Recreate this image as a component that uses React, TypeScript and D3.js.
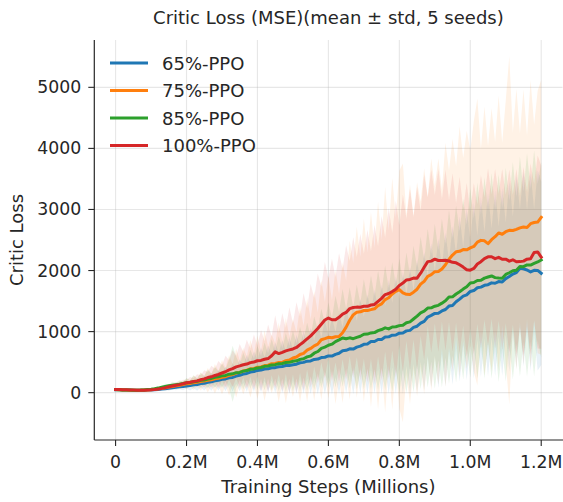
import React from "react";
import * as d3 from "d3";

// x grid: training steps in millions, one sample every 0.01M
const STEP_M = 0.01;
const N_POINTS = 121;

const SERIES_NAMES = ["65%-PPO", "75%-PPO", "85%-PPO", "100%-PPO"];
const SERIES_COLORS = ["#1f77b4", "#ff7f0e", "#2ca02c", "#d62728"];

const MEAN_65 = [
  48, 46, 45, 44, 42, 41, 40, 40, 41, 42,
  45, 48, 53, 58, 64, 72, 80, 88, 95, 102,
  110, 116, 128, 133, 148, 155, 170, 178, 194, 202,
  218, 225, 243, 250, 272, 285, 305, 315, 338, 345,
  365, 370, 388, 390, 408, 410, 424, 428, 444, 446,
  458, 466, 490, 496, 516, 520, 545, 550, 575, 580,
  602, 600, 628, 645, 686, 694, 718, 714, 746, 762,
  792, 798, 838, 838, 870, 872, 912, 914, 942, 944,
  975, 978, 1012, 1020, 1068, 1088, 1138, 1168, 1238, 1265,
  1298, 1302, 1338, 1362, 1418, 1428, 1488, 1532, 1582, 1602,
  1658, 1672, 1718, 1728, 1758, 1768, 1798, 1792, 1820, 1812,
  1868, 1902, 1943, 1967, 2038, 2027, 2008, 1977, 2003, 2002,
  1955,
];
const MEAN_75 = [
  50, 47, 45, 43, 41, 40, 40, 40, 42, 45,
  48, 55, 62, 72, 82, 92, 102, 112, 122, 132,
  144, 150, 164, 170, 184, 190, 204, 212, 228, 236,
  253, 262, 285, 297, 321, 332, 355, 367, 391, 397,
  416, 421, 444, 451, 474, 478, 494, 498, 525, 535,
  568, 585, 626, 644, 696, 724, 766, 794, 866, 884,
  906, 899, 916, 919, 981, 1074, 1186, 1274, 1316, 1324,
  1346, 1344, 1360, 1374, 1426, 1454, 1524, 1554, 1616, 1659,
  1688, 1634, 1611, 1609, 1646, 1694, 1776, 1824, 1906, 1934,
  1981, 1984, 2026, 2094, 2186, 2254, 2306, 2314, 2343, 2339,
  2370, 2394, 2466, 2494, 2486, 2440, 2506, 2554, 2616, 2594,
  2636, 2658, 2656, 2674, 2698, 2714, 2706, 2767, 2786, 2794,
  2870,
];
const MEAN_85 = [
  50, 47, 45, 43, 42, 41, 41, 42, 45, 50,
  56, 64, 75, 88, 100, 112, 122, 132, 140, 150,
  162, 166, 180, 188, 202, 208, 224, 233, 252, 260,
  275, 282, 303, 309, 328, 332, 353, 362, 383, 389,
  405, 412, 431, 437, 455, 459, 473, 479, 493, 497,
  514, 521, 545, 555, 586, 600, 646, 674, 726, 746,
  776, 794, 836, 864, 896, 882, 898, 884, 906, 924,
  956, 959, 978, 984, 1016, 1034, 1061, 1044, 1076, 1079,
  1098, 1104, 1146, 1159, 1206, 1254, 1306, 1334, 1386, 1389,
  1416, 1430, 1466, 1504, 1566, 1569, 1616, 1654, 1696, 1734,
  1796, 1804, 1836, 1840, 1876, 1894, 1911, 1884, 1876, 1874,
  1936, 1964, 1996, 2004, 2066, 2064, 2091, 2089, 2116, 2140,
  2173,
];
const MEAN_100 = [
  52, 50, 48, 46, 44, 42, 41, 40, 41, 43,
  46, 52, 60, 70, 82, 96, 108, 120, 132, 146,
  162, 170, 184, 193, 212, 226, 247, 260, 282, 298,
  322, 343, 372, 393, 422, 438, 457, 468, 492, 503,
  522, 528, 547, 558, 604, 668, 640, 660, 684, 700,
  716, 740, 786, 830, 880, 930, 990, 1050, 1120, 1190,
  1222, 1194, 1196, 1234, 1286, 1314, 1376, 1394, 1401, 1399,
  1416, 1414, 1436, 1444, 1496, 1544, 1606, 1624, 1656, 1694,
  1756, 1794, 1846, 1854, 1876, 1874, 1956, 2054, 2146, 2154,
  2186, 2164, 2166, 2169, 2156, 2134, 2126, 2094, 2056, 2014,
  2006, 2034, 2106, 2144, 2196, 2224, 2226, 2194, 2216, 2184,
  2186, 2154, 2176, 2144, 2146, 2154, 2186, 2194, 2296, 2304,
  2220,
];

const STD_65 = [
  6, 9, 6, 11, 5, 9, 6, 10, 7, 10,
  10, 16, 16, 28, 20, 40, 28, 50, 34, 62,
  40, 80, 50, 100, 60, 120, 70, 145, 85, 165,
  95, 200, 110, 230, 125, 260, 140, 300, 160, 330,
  180, 360, 195, 380, 210, 410, 225, 430, 240, 460,
  255, 480, 270, 510, 290, 540, 310, 570, 330, 600,
  350, 630, 370, 660, 390, 700, 410, 740, 430, 770,
  450, 810, 470, 850, 490, 890, 510, 930, 530, 960,
  560, 1000, 580, 1040, 600, 1080, 630, 1130, 660, 1180,
  690, 1220, 710, 1260, 740, 1300, 770, 1350, 800, 1400,
  830, 1440, 850, 1470, 870, 1500, 890, 1520, 900, 1540,
  920, 1560, 940, 1580, 960, 1600, 980, 1620, 1000, 1640,
  1500,
];
const STD_75 = [
  12, 8, 14, 7, 10, 6, 12, 8, 11, 9,
  18, 12, 30, 22, 45, 25, 55, 35, 70, 40,
  90, 50, 120, 60, 150, 85, 200, 95, 240, 120,
  280, 140, 330, 170, 400, 200, 380, 230, 470, 250,
  520, 260, 580, 300, 480, 330, 650, 340, 700, 380,
  640, 400, 780, 450, 850, 480, 900, 520, 980, 600,
  1000, 620, 1100, 700, 1150, 760, 1300, 850, 1400, 900,
  1500, 950, 1600, 1000, 1700, 1050, 1850, 1100, 1900, 1200,
  1950, 2120, 1300, 1800, 1250, 1750, 1350, 1850, 1300, 1900,
  1400, 1850, 1300, 2000, 1450, 1900, 1400, 2050, 1500, 1950,
  1600, 2050, 2350, 1500, 2200, 1600, 2150, 1550, 2250, 1500,
  2150, 2850, 1600, 2300, 1550, 2250, 1500, 2350, 1600, 2150,
  2250,
];
const STD_85 = [
  10, 7, 12, 6, 9, 6, 10, 7, 12, 8,
  18, 12, 32, 20, 45, 25, 55, 32, 65, 36,
  80, 40, 100, 50, 120, 65, 150, 75, 170, 90,
  200, 100, 240, 460, 260, 130, 300, 150, 320, 170,
  360, 190, 390, 210, 420, 230, 450, 250, 480, 270,
  500, 290, 530, 310, 560, 330, 600, 360, 650, 400,
  700, 430, 750, 460, 800, 490, 830, 510, 860, 540,
  900, 570, 940, 600, 980, 630, 1020, 660, 1060, 690,
  1100, 720, 1150, 760, 1200, 800, 1250, 840, 1300, 880,
  1350, 900, 1380, 930, 1420, 960, 1450, 990, 1480, 1020,
  1550, 1050, 1600, 1080, 1650, 1100, 1680, 1120, 1700, 1150,
  1750, 1180, 1780, 1200, 1800, 1230, 1830, 1250, 1850, 1280,
  1600,
];
const STD_100 = [
  7, 10, 6, 12, 6, 9, 7, 10, 8, 11,
  10, 16, 18, 28, 22, 40, 30, 50, 38, 65,
  45, 85, 55, 110, 75, 140, 90, 180, 110, 220,
  130, 260, 160, 300, 180, 360, 210, 400, 230, 450,
  250, 500, 290, 560, 320, 600, 340, 640, 380, 700,
  420, 740, 460, 800, 500, 850, 560, 900, 620, 950,
  650, 1000, 700, 1050, 740, 1100, 780, 1150, 820, 1200,
  860, 1250, 880, 1300, 900, 1350, 930, 1400, 960, 1450,
  980, 1450, 1000, 1480, 1000, 1500, 1020, 1520, 1050, 1500,
  1050, 1500, 1000, 1480, 1000, 1460, 980, 1440, 960, 1420,
  960, 1400, 980, 1420, 1000, 1450, 1020, 1470, 1040, 1480,
  1050, 1500, 1060, 1520, 1080, 1540, 1100, 1560, 1120, 1580,
  1500,
];

const MEANS = [MEAN_65, MEAN_75, MEAN_85, MEAN_100];
const STDS = [STD_65, STD_75, STD_85, STD_100];

const X_TICKS = [0, 0.2, 0.4, 0.6, 0.8, 1.0, 1.2];
const X_TICK_LABELS = ["0", "0.2M", "0.4M", "0.6M", "0.8M", "1.0M", "1.2M"];
const Y_TICKS = [0, 1000, 2000, 3000, 4000, 5000];

const TITLE = "Critic Loss (MSE)(mean ± std, 5 seeds)";
const X_LABEL = "Training Steps (Millions)";
const Y_LABEL = "Critic Loss";

const W = 563;
const H = 502;
const FONT = "'DejaVu Sans', sans-serif";

export default function App() {
  const left = 94.3;
  const right = 562.5;
  const top = 40;
  const bottom = 440;

  const x = d3.scaleLinear().domain([-0.06, 1.26]).range([left, right]);
  const y = d3.scaleLinear().domain([-775, 5775]).range([bottom, top]);

  const steps = d3.range(N_POINTS).map((i) => i * STEP_M);

  const line = d3
    .line<number>()
    .x((_, i) => x(steps[i]))
    .y((d) => y(d));

  const areaFor = (mean: number[], std: number[]) =>
    d3
      .area<number>()
      .x((_, i) => x(steps[i]))
      .y0((d, i) => y(d - std[i]))
      .y1((d, i) => y(d + std[i]))(mean) as string;

  return (
    <svg
      width={W}
      height={H}
      style={{ position: "absolute", left: 0, top: 0, background: "#fff" }}
      fontFamily={FONT}
    >
      <rect x={0} y={0} width={W} height={H} fill="#fff" />
      <defs>
        <clipPath id="plotclip">
          <rect x={left} y={top} width={right - left} height={bottom - top} />
        </clipPath>
      </defs>

      {/* grid */}
      <g stroke="#b0b0b0" strokeOpacity={0.3} strokeWidth={1.1}>
        {X_TICKS.map((t) => (
          <line key={"gx" + t} x1={x(t)} x2={x(t)} y1={top} y2={bottom} />
        ))}
        {Y_TICKS.map((t) => (
          <line key={"gy" + t} x1={left} x2={right} y1={y(t)} y2={y(t)} />
        ))}
      </g>

      {/* bands */}
      <g clipPath="url(#plotclip)">
        {MEANS.map((m, k) => (
          <path
            key={"band" + k}
            d={areaFor(m, STDS[k])}
            fill={SERIES_COLORS[k]}
            fillOpacity={0.1}
            stroke="none"
          />
        ))}
        {MEANS.map((m, k) => (
          <path
            key={"line" + k}
            d={line(m) as string}
            fill="none"
            stroke={SERIES_COLORS[k]}
            strokeWidth={3}
            strokeLinejoin="round"
            strokeLinecap="square"
          />
        ))}
      </g>

      {/* spines */}
      <g stroke="#262626" strokeWidth={1.2}>
        <line x1={left} x2={left} y1={top} y2={bottom} />
        <line x1={left} x2={right + 1} y1={bottom} y2={bottom} />
      </g>

      {/* x ticks */}
      {X_TICKS.map((t, i) => (
        <g key={"xt" + t}>
          <line x1={x(t)} x2={x(t)} y1={bottom} y2={bottom + 6} stroke="#262626" strokeWidth={1.1} />
          <text
            x={x(t)}
            y={bottom + 22}
            textAnchor="middle"
            dominantBaseline="central"
            fontSize={17.3}
            fill="#262626"
          >
            {X_TICK_LABELS[i]}
          </text>
        </g>
      ))}

      {/* y ticks */}
      {Y_TICKS.map((t) => (
        <g key={"yt" + t}>
          <line x1={left - 6} x2={left} y1={y(t)} y2={y(t)} stroke="#262626" strokeWidth={1.1} />
          <text
            x={left - 13}
            y={y(t)}
            textAnchor="end"
            dominantBaseline="central"
            fontSize={17.3}
            fill="#262626"
          >
            {t}
          </text>
        </g>
      ))}

      {/* labels */}
      <text
        x={(left + right) / 2}
        y={486}
        textAnchor="middle"
        dominantBaseline="central"
        fontSize={18}
        fill="#262626"
      >
        {X_LABEL}
      </text>
      <text
        transform={`translate(16, ${(top + bottom) / 2}) rotate(-90)`}
        textAnchor="middle"
        dominantBaseline="central"
        fontSize={18}
        fill="#262626"
      >
        {Y_LABEL}
      </text>
      <text
        x={(left + right) / 2}
        y={17}
        textAnchor="middle"
        dominantBaseline="central"
        fontSize={18}
        fill="#262626"
      >
        {TITLE}
      </text>

      {/* legend */}
      {SERIES_NAMES.map((name, k) => {
        const ly = 63 + k * 27.5;
        return (
          <g key={"lg" + k}>
            <line x1={110} x2={148} y1={ly} y2={ly} stroke={SERIES_COLORS[k]} strokeWidth={3} />
            <text x={162} y={ly} dominantBaseline="central" fontSize={18} fill="#262626">
              {name}
            </text>
          </g>
        );
      })}
    </svg>
  );
}
